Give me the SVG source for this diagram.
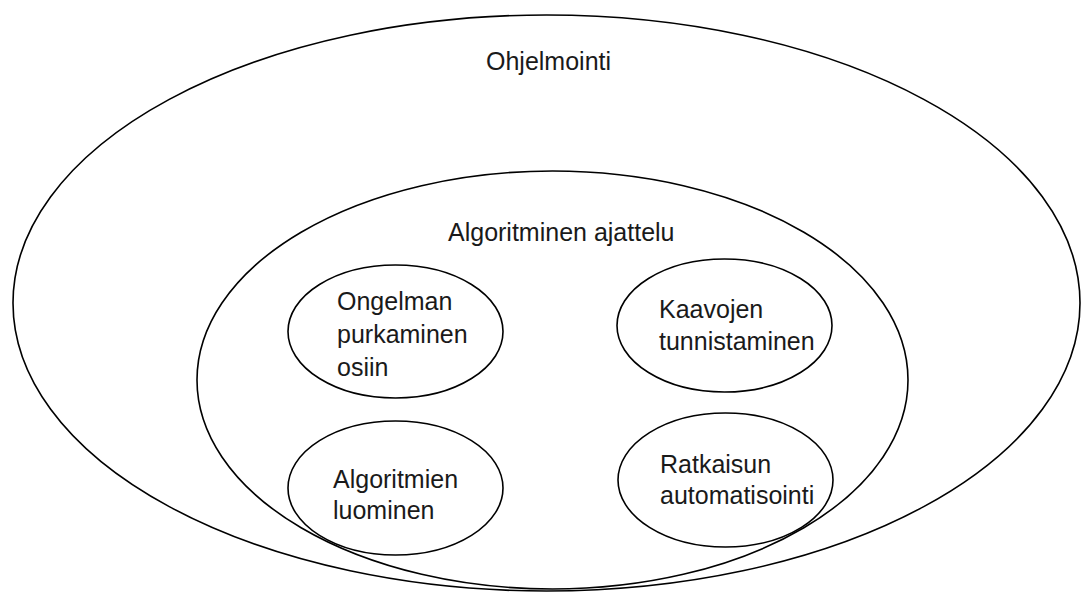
<svg xmlns="http://www.w3.org/2000/svg" width="1081" height="593" viewBox="0 0 1081 593">
<style>
  .shape { fill: none; stroke: #000; stroke-width: 1.6; }
  .lbl { font-family: "Liberation Sans", Arial, sans-serif; font-size: 25px; fill: #1a1a1a; }
</style>
<rect width="1081" height="593" fill="#fff"/>
<g id="ohjelmointi">
  <ellipse class="shape" cx="546.5" cy="303" rx="533.5" ry="288"/>
  <text class="lbl" x="486" y="70">Ohjelmointi</text>
</g>
<g id="algoritminen-ajattelu">
  <ellipse class="shape" cx="552.5" cy="380" rx="355.5" ry="209"/>
  <text class="lbl" x="448" y="241">Algoritminen ajattelu</text>
</g>
<g id="ongelman-purkaminen">
  <ellipse class="shape" cx="395.5" cy="331.5" rx="107.5" ry="66.5"/>
  <text class="lbl" x="337" y="310">Ongelman</text>
  <text class="lbl" x="337" y="343">purkaminen</text>
  <text class="lbl" x="337" y="376">osiin</text>
</g>
<g id="kaavojen-tunnistaminen">
  <ellipse class="shape" cx="724.5" cy="325.5" rx="107.5" ry="66.5"/>
  <text class="lbl" x="659" y="318">Kaavojen</text>
  <text class="lbl" x="659" y="350">tunnistaminen</text>
</g>
<g id="algoritmien-luominen">
  <ellipse class="shape" cx="395.5" cy="488" rx="107.5" ry="67"/>
  <text class="lbl" x="333" y="488">Algoritmien</text>
  <text class="lbl" x="333" y="519">luominen</text>
</g>
<g id="ratkaisun-automatisointi">
  <ellipse class="shape" cx="725.5" cy="480" rx="107.5" ry="67"/>
  <text class="lbl" x="660" y="473">Ratkaisun</text>
  <text class="lbl" x="660" y="504">automatisointi</text>
</g>
<g id="connectors"/>
</svg>
